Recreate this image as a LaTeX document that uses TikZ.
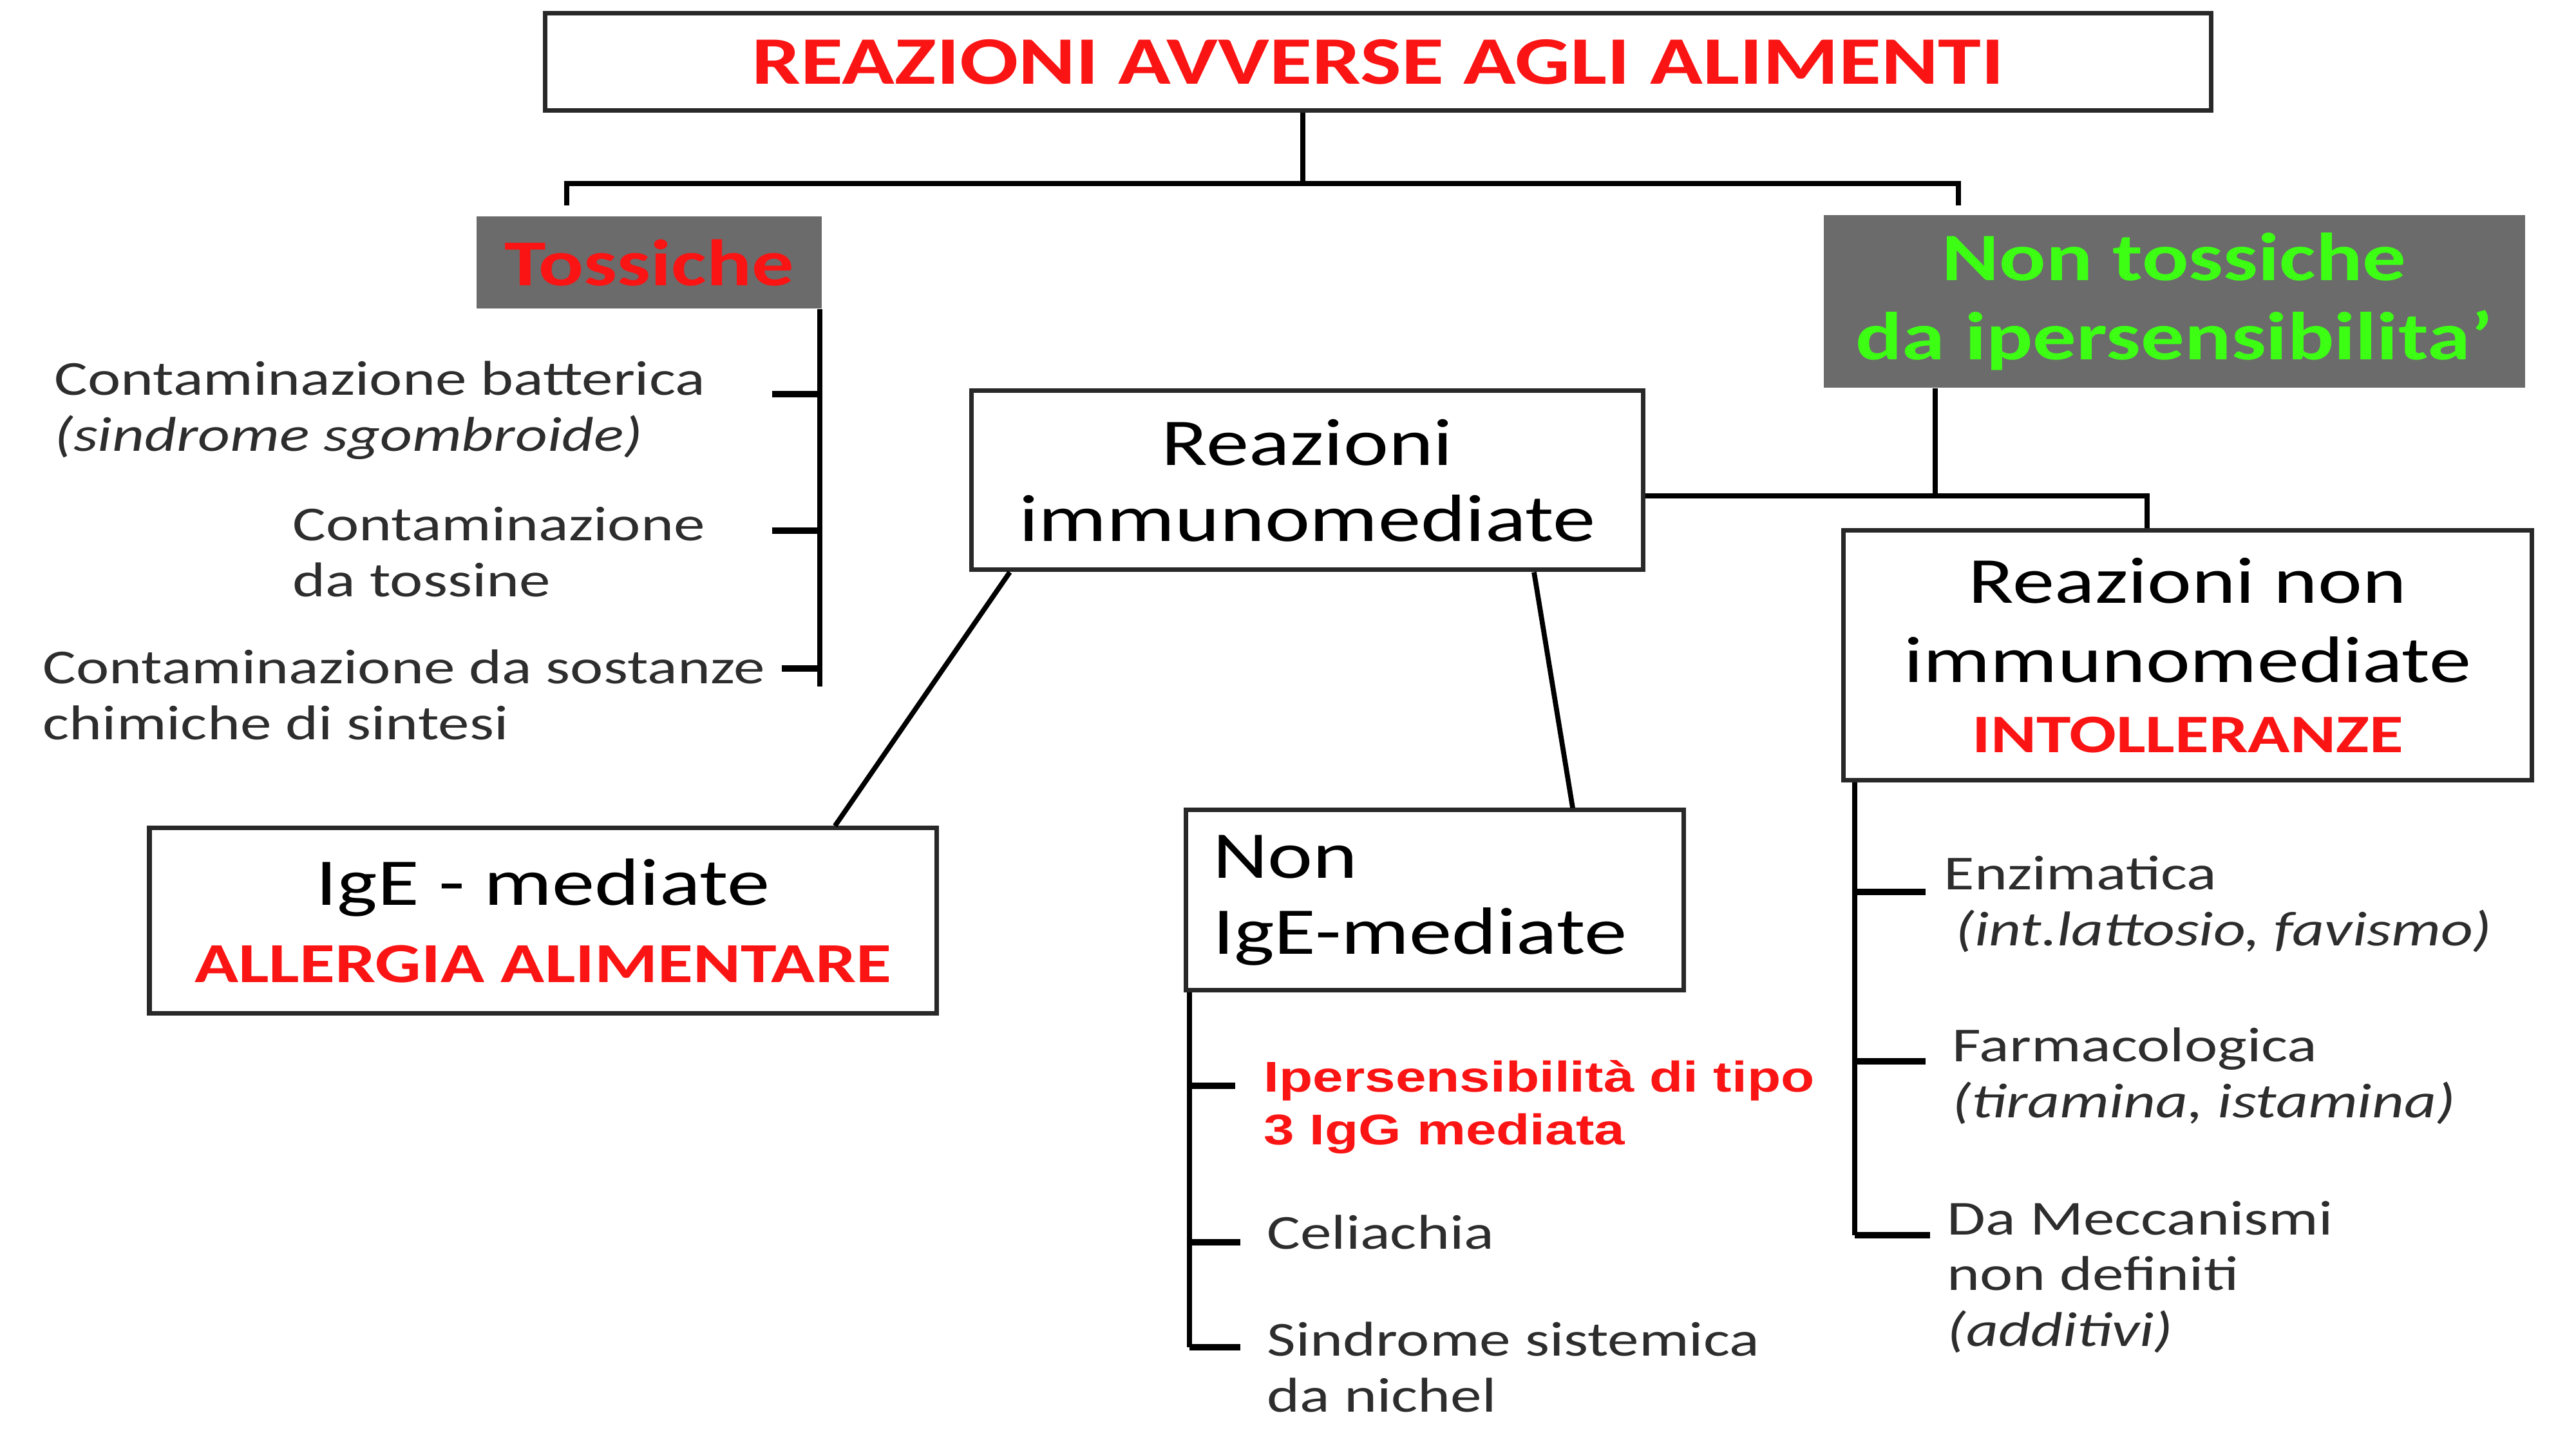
\documentclass[tikz,border=0pt]{standalone}
\usepackage{fontspec}
\setmainfont{Carlito}[FakeStretch=1.28]
\newfontfamily\arialbold{Liberation Sans}[FakeStretch=1.28]
\usepackage{tikz}
\definecolor{alertred}{RGB}{250, 20, 20}
\definecolor{hubgrey}{RGB}{107, 107, 107}
\definecolor{safegreen}{RGB}{60, 255, 20}
\definecolor{boxline}{RGB}{40, 40, 40}
\definecolor{leafgrey}{RGB}{45, 45, 45}

\begin{document}
\begin{tikzpicture}[
    frame/.style={draw=boxline, line width=2pt, fill=white, inner sep=0pt, text=black},
    hub/.style={fill=hubgrey, inner sep=0pt},
    leaf/.style={anchor=west, align=left, inner sep=0pt, text=leafgrey, font=\fontsize{21.6}{24.7}\selectfont},
    link/.style={line width=2.2pt},
    tick/.style={line width=3pt}]
        \useasboundingbox (0,0) rectangle (40,22.5);
        % boxes
        \node[frame, minimum width=25.87cm, minimum height=1.51cm, text=alertred, font=\bfseries\fontsize{30}{35}\selectfont] (title) at (21.40,21.54) {\raisebox{-2pt}{REAZIONI AVVERSE AGLI ALIMENTI}};
        \node[hub, minimum width=5.36cm, minimum height=1.43cm, text=alertred, font=\bfseries\fontsize{29}{34}\selectfont] (tox) at (10.08,18.42) {Tossiche};
        \node[hub, minimum width=10.89cm, minimum height=2.68cm, text=safegreen, align=center, font=\bfseries\fontsize{30}{35}\selectfont] (nontox) at (33.76,17.82) {Non tossiche\\da ipersensibilita'};
        \node[frame, minimum width=10.43cm, minimum height=2.78cm, align=center, font=\fontsize{29.5}{33.5}\selectfont] (rim) at (20.30,15.04) {Reazioni\\immunomediate};
        \node[frame, minimum width=10.69cm, minimum height=3.88cm, align=center, font=\fontsize{29}{35}\selectfont] (rnim) at (33.97,12.32) {Reazioni non\\immunomediate\\[-4pt]{\color{alertred}\bfseries\fontsize{24}{28}\selectfont INTOLLERANZE}};
        \node[frame, minimum width=12.22cm, minimum height=2.88cm, align=center, font=\fontsize{29.5}{34}\selectfont] (ige) at (8.43,8.20) {IgE - mediate\\{\color{alertred}\bfseries\fontsize{25}{30}\selectfont ALLERGIA ALIMENTARE}};
        \node[frame, minimum width=7.73cm, minimum height=2.80cm, text width=6.9cm, align=left, font=\fontsize{29.5}{33.5}\selectfont] (nonige) at (22.28,8.52) {Non\\IgE-mediate};
        % leaves
        \node[leaf] (batt) at (0.84,16.13) {Contaminazione batterica\\\textit{(sindrome sgombroide)}};
        \node[leaf] (toss) at (4.54,13.93) {Contaminazione\\da tossine};
        \node[leaf] (chim) at (0.66,11.71) {Contaminazione da sostanze\\chimiche di sintesi};
        \node[leaf, text=alertred, font=\arialbold\bfseries\fontsize{19}{23.2}\selectfont] (ipers) at (19.62,5.31) {Ipersensibilità di tipo\\3 IgG mediata};
        \node[leaf] (celi) at (19.67,3.37) {Celiachia};
        \node[leaf] (nich) at (19.67,1.27) {Sindrome sistemica\\da nichel};
        \node[leaf] (enzi) at (30.18,8.46) {Enzimatica\\\hspace{0.18cm}\textit{(int.lattosio, favismo)}};
        \node[leaf] (farm) at (30.31,5.79) {Farmacologica\\\textit{(tiramina, istamina)}};
        \node[leaf] (mecc) at (30.23,2.67) {Da Meccanismi\\non definiti\\\textit{(additivi)}};
        % top split
        \draw[link] ([xshift=-1.17cm]title.south) -- ++(0,-1.10) coordinate (split);
        \coordinate (brL) at (8.80,19.31);
        \coordinate (brR) at (30.41,19.31);
        \draw[link] (brL) |- (split) -| (brR);
        % tossiche spine
        \coordinate (toxend) at (12.73,11.84);
        \draw[link] (toxend |- tox.south) -- (toxend);
        \foreach \nm/\x/\y in {ta/11.99/16.38, tb/11.99/14.26, tc/12.14/12.12}{
            \coordinate (\nm) at (\x,\y);
            \draw[tick] (\nm) -- (\nm -| toxend);}
        % immunomediate
        \draw[link] ([xshift=0.63cm]rim.south west) -- ([xshift=-1.61cm]ige.north east);
        \draw[link] ([xshift=-1.73cm]rim.south east) -- ([xshift=-1.76cm]nonige.north east);
        \coordinate (nigend) at (18.47,1.58);
        \draw[link] (nigend |- nonige.south) -- (nigend);
        \foreach \nm/\x/\y in {na/19.18/5.64, nb/19.26/3.21, nc/19.26/1.58}{
            \coordinate (\nm) at (\x,\y);
            \draw[tick] (\nm -| nigend) -- (\nm);}
        % non immunomediate
        \coordinate (junc) at (30.05,14.80);
        \draw[link] (junc |- nontox.south) -- (junc);
        \draw[link] (rim.east |- junc) -| ([xshift=-0.63cm]rnim.north);
        \coordinate (rnend) at (28.80,3.32);
        \draw[link] (rnend |- rnim.south) -- (rnend);
        \foreach \nm/\x/\y in {ra/29.90/8.65, rb/29.90/6.02, rc/29.97/3.32}{
            \coordinate (\nm) at (\x,\y);
            \draw[tick] (\nm -| rnend) -- (\nm);}
    \end{tikzpicture}
\end{document}
